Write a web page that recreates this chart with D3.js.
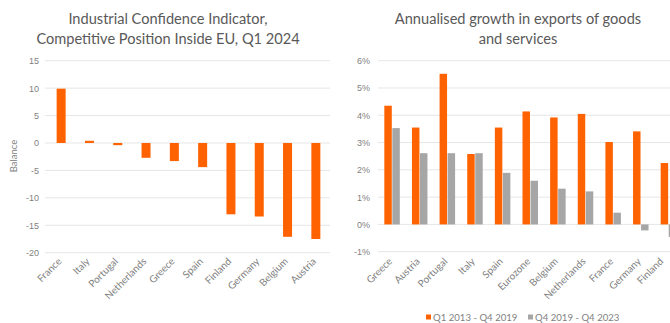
<!DOCTYPE html>
<html><head><meta charset="utf-8">
<script src="https://cdn.jsdelivr.net/npm/d3@7"></script>
<style>
body{margin:0;background:#fff;}
svg{display:block;font-family:"Lato","Noto Sans",sans-serif;}
</style></head>
<body><svg id="c" width="670" height="323"></svg>
<script>
// Left chart data
const leftCategories = ["France","Italy","Portugal","Netherlands","Greece","Spain","Finland","Germany","Belgium","Austria"];
const leftValues = [9.9, 0.4, -0.4, -2.7, -3.3, -4.4, -13.0, -13.4, -17.1, -17.5];
const leftTicks = [15,10,5,0,-5,-10,-15,-20];

// Right chart data
const rightCategories = ["Greece","Austria","Portugal","Italy","Spain","Eurozone","Belgium","Netherlands","France","Germany","Finland"];
const seriesNames = ["Q1 2013 - Q4 2019","Q4 2019 - Q4 2023"];
const series2013 = [4.35, 3.55, 5.52, 2.58, 3.55, 4.14, 3.92, 4.05, 3.02, 3.41, 2.25];
const series2019 = [3.53, 2.61, 2.61, 2.61, 1.89, 1.60, 1.31, 1.21, 0.43, -0.22, -0.46];
const rightTicks = [6,5,4,3,2,1,0,-1];

const ORANGE = "#ff6200", GREY = "#a6a6a6", TXT = "#7f7f7f", TITLE = "#595959", GRID = "#e6e6e6";
const svg = d3.select("#c");

// ---------- Left chart ----------
{
  const g = svg.append("g");
  const y = d3.scaleLinear().domain([-20,15]).range([252.7,60.7]);
  const xb = d3.scaleBand().domain(leftCategories).range([47,330]);
  g.append("g").selectAll("line").data(leftTicks).join("line")
    .attr("x1",45).attr("x2",330).attr("y1",d=>y(d)).attr("y2",d=>y(d))
    .attr("stroke",GRID).attr("stroke-width",1);
  const ya = g.append("g").attr("transform","translate(45,0)")
    .call(d3.axisLeft(y).tickValues(leftTicks).tickSize(0).tickPadding(6).tickFormat(d=>d<0?"-"+Math.abs(d):d));
  ya.select(".domain").remove();
  ya.selectAll("text").attr("fill",TXT).style("font-size","9px");
  g.append("g").selectAll("rect").data(leftValues).join("rect")
    .attr("x",(d,i)=>xb(leftCategories[i])+xb.bandwidth()/2-4.5).attr("width",9)
    .attr("y",d=>y(Math.max(0,d))).attr("height",d=>Math.abs(y(d)-y(0)))
    .attr("fill",ORANGE);
  g.append("g").selectAll("text").data(leftCategories).join("text")
    .attr("transform",d=>`translate(${xb(d)+xb.bandwidth()/2+1},${262}) rotate(-45)`)
    .attr("text-anchor","end").attr("fill",TXT).style("font-size","10px").text(d=>d);
  g.append("text").attr("transform","translate(17,156) rotate(-90)").attr("text-anchor","middle")
    .attr("fill",TXT).style("font-size","9.5px").text("Balance");
  const t = g.append("text").attr("text-anchor","middle").attr("fill",TITLE).style("font-size","14.6px");
  t.append("tspan").attr("x",168).attr("y",24).text("Industrial Confidence Indicator,");
  t.append("tspan").attr("x",168).attr("y",44).text("Competitive Position Inside EU, Q1 2024");
}

// ---------- Right chart ----------
{
  const g = svg.append("g");
  const y = d3.scaleLinear().domain([-1,6]).range([251.7,60.7]);
  const x = d3.scaleBand().domain(rightCategories).range([378,682]);
  const xs = d3.scaleBand().domain([0,1]).range([x.bandwidth()/2-7.5, x.bandwidth()/2+8]).paddingInner(0.07);
  g.append("g").selectAll("line").data(rightTicks).join("line")
    .attr("x1",378).attr("x2",670).attr("y1",d=>y(d)).attr("y2",d=>y(d))
    .attr("stroke",GRID).attr("stroke-width",1);
  const ya = g.append("g").attr("transform","translate(376,0)")
    .call(d3.axisLeft(y).tickValues(rightTicks).tickSize(0).tickPadding(6).tickFormat(d=>(d<0?"-"+Math.abs(d):d)+"%"));
  ya.select(".domain").remove();
  ya.selectAll("text").attr("fill",TXT).style("font-size","9px");
  const data = [series2013, series2019];
  const colors = [ORANGE, GREY];
  data.forEach((s,si)=>{
    g.append("g").selectAll("rect").data(s).join("rect")
      .attr("x",(d,i)=>x(rightCategories[i])+xs(si)).attr("width",xs.bandwidth())
      .attr("y",d=>y(Math.max(0,d))).attr("height",d=>Math.abs(y(d)-y(0)))
      .attr("fill",colors[si]);
  });
  g.append("g").selectAll("text").data(rightCategories).join("text")
    .attr("transform",d=>`translate(${Math.min(x(d)+x.bandwidth()/2+1,664)},${262}) rotate(-45)`)
    .attr("text-anchor","end").attr("fill",TXT).style("font-size","10px").text(d=>d);
  const t = g.append("text").attr("text-anchor","middle").attr("fill",TITLE).style("font-size","14.6px");
  t.append("tspan").attr("x",518).attr("y",24).text("Annualised growth in exports of goods");
  t.append("tspan").attr("x",518).attr("y",44).text("and services");
  // legend
  const lx = [426, 528];
  seriesNames.forEach((n,i)=>{
    g.append("rect").attr("x",lx[i]).attr("y",314.5).attr("width",5).attr("height",5).attr("fill",colors[i]);
    g.append("text").attr("x",lx[i]+7).attr("y",320.5).attr("fill",TXT).style("font-size","9.6px").text(n);
  });
}
</script></body></html>
